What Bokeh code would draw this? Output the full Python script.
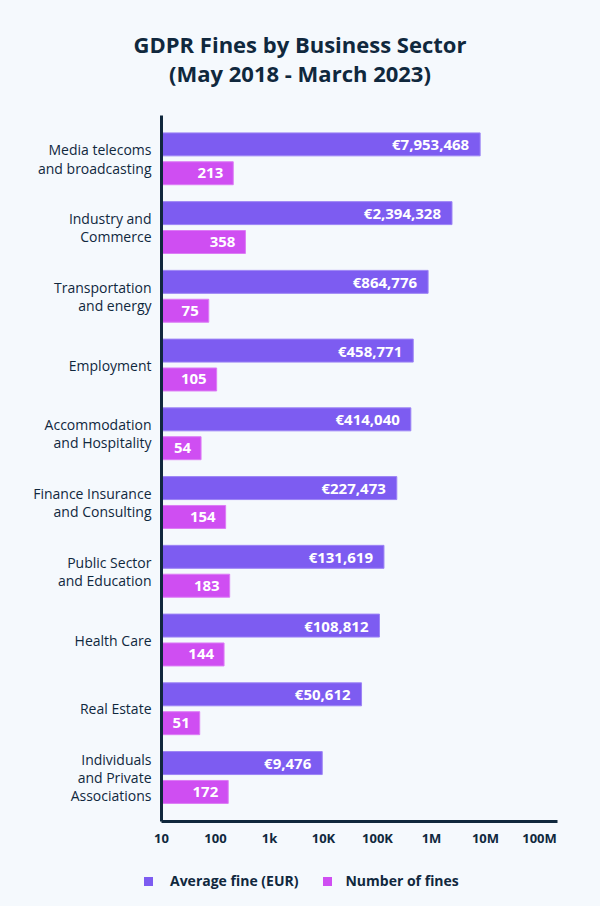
from bokeh.plotting import figure
from bokeh.layouts import column
from bokeh.models import (Range1d, FixedTicker, ColumnDataSource, Div)
from bokeh.transform import dodge
from bokeh.core.properties import value
from bokeh.embed import file_html
from bokeh.resources import INLINE

# ---- data ----
title_lines = ["GDPR Fines by Business Sector", "(May 2018 - March 2023)"]
sectors = ["Media telecoms\nand broadcasting", "Industry and\nCommerce",
           "Transportation\nand energy", "Employment",
           "Accommodation\nand Hospitality", "Finance Insurance\nand Consulting",
           "Public Sector\nand Education", "Health Care", "Real Estate",
           "Individuals\nand Private\nAssociations"]
avg_fine = [7953468, 2394328, 864776, 458771, 414040, 227473, 131619, 108812, 50612, 9476]
num_fines = [213, 358, 75, 105, 54, 154, 183, 144, 51, 172]
tick_values = [10, 100, 1000, 10000, 100000, 1000000, 10000000, 100000000]
tick_labels = ["10", "100", "1k", "10K", "100K", "1M", "10M", "100M"]
series_names = ["Average fine (EUR)", "Number of fines"]

BG = "#F5F9FD"
NAVY = "#10283D"
PURPLE = "#7D5CF1"
MAGENTA = "#CF4EF2"
FONT = "Open Sans"

idx = list(range(len(sectors)))
src = ColumnDataSource(dict(
    y=idx,
    avg=avg_fine,
    num=num_fines,
    avg_lbl=[f"€{v:,}" for v in avg_fine],
    num_lbl=[f"{v:,}" for v in num_fines],
))

# title block (HTML text)
title_html = (
    f'<div style="width:600px;height:95px;box-sizing:border-box;padding-top:30px;'
    f'text-align:center;background:{BG};font-family:\'{FONT}\';font-weight:bold;'
    f'font-size:22px;line-height:29px;color:{NAVY};">'
    f'{title_lines[0]}<br>{title_lines[1]}</div>'
)
title_div = Div(text=title_html, width=600, height=95, margin=0)

x_start = 10
p = figure(frame_width=396, frame_height=706, x_axis_type="log",
           x_range=Range1d(x_start, 10 ** 8.333),
           y_range=Range1d(9.64, -0.63),
           output_backend="svg", toolbar_location=None,
           background_fill_color=BG, border_fill_color=BG,
           min_border_left=161, min_border_right=43,
           min_border_top=20, min_border_bottom=35)
p.outline_line_color = None
p.grid.grid_line_color = None

r1 = p.hbar(y=dodge("y", -0.21, range=p.y_range), left=x_start, right="avg",
            height=0.334, source=src, fill_color=PURPLE, line_color="#9C84F5",
            line_width=1)
r2 = p.hbar(y=dodge("y", 0.21, range=p.y_range), left=x_start, right="num",
            height=0.334, source=src, fill_color=MAGENTA, line_color="#DC7CF5",
            line_width=1)

p.text(x="avg", y=dodge("y", -0.21, range=p.y_range), text="avg_lbl", source=src,
       x_offset=-11, text_align="right", text_baseline="middle",
       text_color="white", text_font=value(FONT), text_font_style="bold",
       text_font_size="15px")
p.text(x="num", y=dodge("y", 0.21, range=p.y_range), text="num_lbl", source=src,
       x_offset=-10, text_align="right", text_baseline="middle",
       text_color="white", text_font=value(FONT), text_font_style="bold",
       text_font_size="15px")

# axes
xa = p.xaxis[0]
xa.ticker = FixedTicker(ticks=tick_values, minor_ticks=[])
xa.major_label_overrides = {v: l for v, l in zip(tick_values, tick_labels)}
xa.axis_line_color = NAVY
xa.axis_line_width = 3
xa.major_tick_line_color = None
xa.minor_tick_line_color = None
xa.major_label_text_font = FONT
xa.major_label_text_font_style = "bold"
xa.major_label_text_font_size = "13px"
xa.major_label_text_color = NAVY
xa.major_label_standoff = 1

ya = p.yaxis[0]
ya.ticker = FixedTicker(ticks=idx)
ya.major_label_overrides = {i: s for i, s in zip(idx, sectors)}
ya.axis_line_color = NAVY
ya.axis_line_width = 3
ya.major_tick_line_color = None
ya.minor_tick_line_color = None
ya.major_label_text_font = FONT
ya.major_label_text_font_size = "14px"
ya.major_label_text_line_height = 0.97
ya.major_label_text_color = NAVY
ya.major_label_standoff = 4

# legend strip below the chart (HTML text)
sq = "display:inline-block;width:9px;height:9px;"
legend_html = (
    f'<div style="display:flex;align-items:center;height:50px;width:600px;'
    f'box-sizing:border-box;padding-left:144px;background:{BG};'
    f"font-family:'{FONT}';font-weight:bold;font-size:14px;color:{NAVY};\">"
    f'<span style="{sq}background:{PURPLE};margin-right:17px"></span>'
    f'<span>{series_names[0]}</span>'
    f'<span style="{sq}background:{MAGENTA};margin-left:25px;margin-right:13px"></span>'
    f'<span>{series_names[1]}</span></div>'
)
legend_div = Div(text=legend_html, width=600, height=50, margin=0)

layout = column(title_div, p, legend_div, spacing=0,
                styles={"background-color": BG})

html = file_html(layout, INLINE)
html = html.replace("<body>", f'<body style="background:{BG}">', 1)
open("out.html", "w").write(html)
